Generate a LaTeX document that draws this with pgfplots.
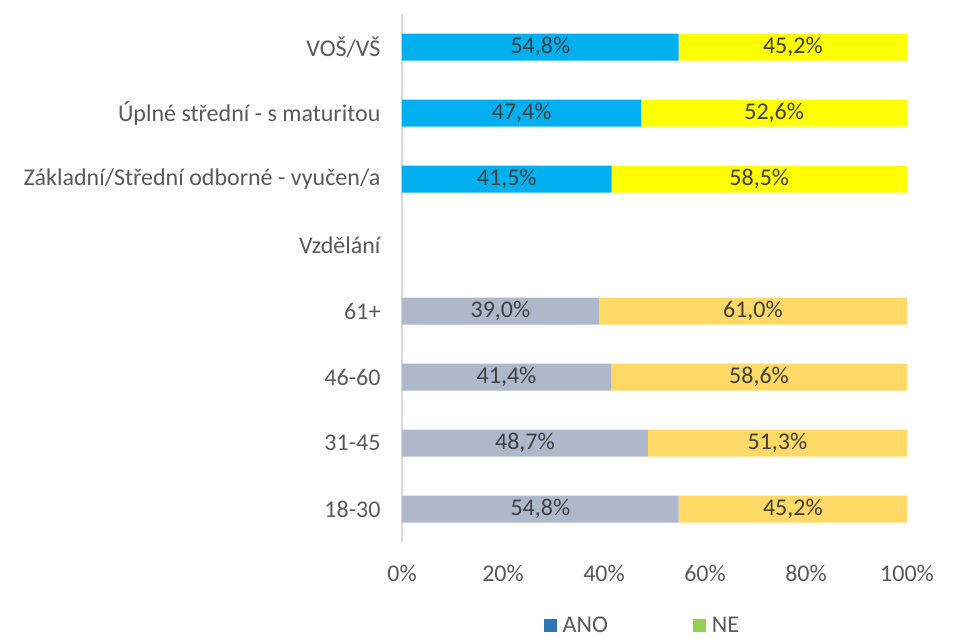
\documentclass[border=0pt]{standalone}
\usepackage{pgfplots}
\pgfplotsset{compat=1.18}
\usepackage{pgfplotstable}
\usepackage{fontspec}
\setmainfont{Carlito}
\definecolor{anoTop}{HTML}{00B0F0}
\definecolor{neTop}{HTML}{FFFF00}
\definecolor{anoBot}{HTML}{ADB9CA}
\definecolor{neBot}{HTML}{FFD966}
\definecolor{legBlue}{HTML}{2E75B6}
\definecolor{legGreen}{HTML}{92D050}
\definecolor{txt}{HTML}{595959}
\definecolor{lbl}{HTML}{404040}
\definecolor{axgray}{HTML}{D9D9D9}

\pgfplotstableread{
row ano ne
5 41.5 58.5
6 47.4 52.6
7 54.8 45.2
}\topdata
\pgfplotstableread{
row ano ne
0 54.8 45.2
1 48.7 51.3
2 41.4 58.6
3 39.0 61.0
}\botdata

\pgfplotsset{
  base/.style={
    xbar stacked, scale only axis, width=505pt, height=528pt,
    xmin=0, xmax=100, ymin=-0.5, ymax=7.5, bar width=27pt,
    font=\fontsize{24}{28}\selectfont,
    /pgf/number format/assume math mode=true,
    nodes near coords={\pgfmathprintnumber[fixed,fixed zerofill,precision=1,use comma]{\rawx}\%},
    every node near coord/.append style={anchor=center, text=lbl, font=\fontsize{24}{28}\selectfont},
  },
}

\begin{document}
\begin{tikzpicture}
\useasboundingbox (-402pt,-96pt) rectangle (551pt,542pt);
\begin{axis}[base,
  axis y line*=left, axis x line*=bottom,
  axis line style={-},
  x axis line style={draw=none},
  y axis line style={draw=axgray, line width=1.5pt},
  major tick length=0pt,
  xtick={0,20,...,100},
  xticklabel={\pgfmathprintnumber{\tick}\%},
  xticklabel style={text=txt, yshift=-20pt},
  ytick={0,...,7},
  yticklabels={18-30,31-45,46-60,61+,Vzdělání,{Základní/Střední odborné - vyučen/a},{Úplné střední - s maturitou},VOŠ/VŠ},
  yticklabel style={text=txt, xshift=-18pt},
  legend style={at={(0.475,-0.158)}, anchor=center, draw=none, fill=none,
    inner sep=0pt, nodes={inner sep=1pt},
    legend columns=2, text=txt, font=\fontsize{24}{26}\selectfont,
    /tikz/every even column/.append style={column sep=84pt}},
  legend image code/.code={\fill[#1, draw=none] (0pt,-6.5pt) rectangle (13pt,6.5pt); \path[draw=none, fill=none] (0pt,0pt) -- (18pt,0pt);},
]
\addplot[fill=anoTop, draw=none, forget plot, visualization depends on={\thisrow{ano} \as \rawx}] table[x=ano, y=row] {\topdata};
\addplot[fill=neTop, draw=none, forget plot, visualization depends on={\thisrow{ne} \as \rawx}] table[x=ne, y=row] {\topdata};
\addlegendimage{legBlue}
\addlegendentry{ANO}
\addlegendimage{legGreen}
\addlegendentry{NE}
\end{axis}
\begin{axis}[base, hide axis]
\addplot[fill=anoBot, draw=none, visualization depends on={\thisrow{ano} \as \rawx}] table[x=ano, y=row] {\botdata};
\addplot[fill=neBot, draw=none, visualization depends on={\thisrow{ne} \as \rawx}] table[x=ne, y=row] {\botdata};
\end{axis}
\end{tikzpicture}
\end{document}
